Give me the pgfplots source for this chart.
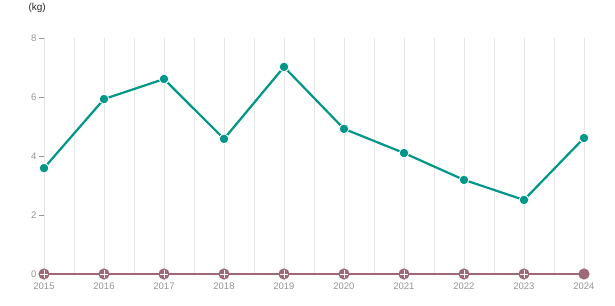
\documentclass[border=0pt]{standalone}
\usepackage{pgfplots}
\pgfplotsset{compat=1.18}
\usepackage{fontspec}
\setmainfont{Liberation Sans}
\definecolor{teal1}{RGB}{0,150,136}
\definecolor{mauve}{RGB}{158,104,118}
\definecolor{gridc}{RGB}{230,230,230}
\definecolor{tickc}{RGB}{150,150,150}
\begin{document}
\begin{tikzpicture}
\useasboundingbox (0pt,0pt) rectangle (615pt,305pt);
\begin{axis}[
  at={(44pt,31pt)}, anchor=south west,
  scale only axis, width=540pt, height=236pt,
  xmin=2015, xmax=2024, ymin=0, ymax=8,
  clip=false,
  axis lines*=left,
  axis line style={draw=none},
  xtick={2015,...,2024},
  minor xtick={2015.5,2016.5,...,2023.5},
  xticklabels={2015,2016,2017,2018,2019,2020,2021,2022,2023,2024},
  ytick={0,2,4,6,8},
  xmajorgrids, xminorgrids,
  grid style={gridc, line width=0.8pt},
  minor grid style={gridc, line width=0.8pt},
  x tick style={draw=none},
  y tick style={tickc, line width=0.6pt},
  tick align=outside,
  major tick length=5pt,
  ticklabel style={font=\fontsize{9.5}{11}\selectfont, text=tickc},
  xticklabel style={yshift=-0.5pt},
  yticklabel style={xshift=1pt},
  /pgf/number format/assume math mode=true,
]
\addplot[mauve, line width=1.5pt, mark=*, mark size=4.8pt, mark options={fill=mauve, draw=mauve}] coordinates {
(2015,0)(2016,0)(2017,0)(2018,0)(2019,0)(2020,0)(2021,0)(2022,0)(2023,0)(2024,0)};
\addplot[draw=none, mark=+, mark size=4pt, mark options={white, line width=0.8pt}] coordinates {
(2015,0)(2016,0)(2017,0)(2018,0)(2019,0)(2020,0)(2021,0)(2022,0)(2023,0)};
\addplot[teal1, line width=2.2pt, mark=*, mark size=4.8pt, mark options={fill=teal1, draw=white, line width=0.8pt}] coordinates {
(2015,3.59)(2016,5.93)(2017,6.61)(2018,4.58)(2019,7.02)(2020,4.92)(2021,4.10)(2022,3.19)(2023,2.51)(2024,4.61)};
\end{axis}
\node[anchor=west, font=\fontsize{10}{12}\selectfont, text=black!85] at (25pt,297pt) {(kg)};
\end{tikzpicture}
\end{document}
